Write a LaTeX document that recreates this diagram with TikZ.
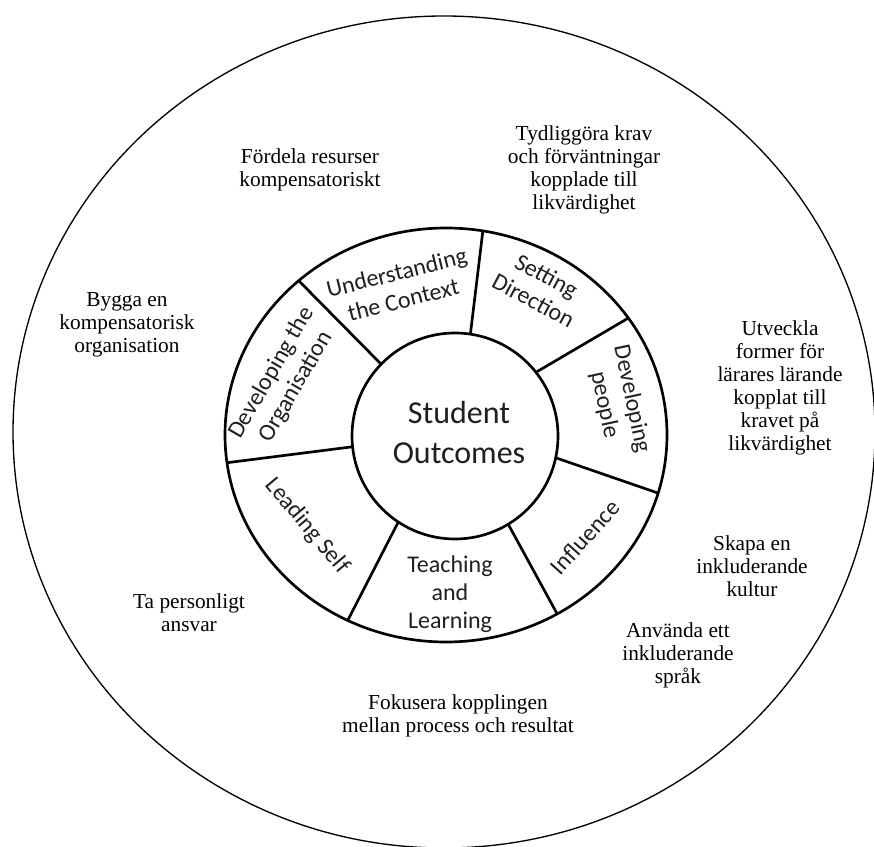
\documentclass[tikz,border=0pt]{standalone}
\usepackage{fontspec}
\setmainfont{Liberation Serif}
\newfontfamily\wheelfont{Carlito}
\usetikzlibrary{
positioning,%
calc
}
\tikzset{
    ring/.style={draw, line width=1pt},
    wheel/.style={draw, line width=2pt},
    sector/.style={font=\wheelfont\fontsize{18}{21}\selectfont, align=center, inner sep=0pt, text=black!88},
    hubtext/.style={font=\wheelfont\fontsize{24}{30}\selectfont, align=center, inner sep=0pt, text=black!88},
    goal/.style={font=\fontsize{16}{17.25}\selectfont, align=center, inner sep=0pt}
}

\begin{document}
\begin{tikzpicture}[x=0.75pt, y=0.75pt]
            \useasboundingbox (0,0) rectangle (874,846);
            \coordinate (c0) at (444,414);
            \coordinate (cw) at (446,411);
            \coordinate (ch) at (455,410);
            \draw[ring] (c0) ellipse [x radius=431, y radius=416];
            \draw[wheel] (cw) ellipse [x radius=221, y radius=207];
            \draw[wheel] (ch) circle [radius=103];
            \foreach \a/\b in {135.8/131.8, 81.4/80.4, 38.2/34.4, -12.2/-16.3,
                               -58.9/-59.8, -123.4/-116.4, 186/187.7}
                \draw[wheel] ([shift={(ch)}]\a:103) -- ([shift={(cw)}]\b:221 and 207);
            \node[hubtext] (hub) at (459,413) {Student\\Outcomes};
            \node[sector, rotate=14] (ctx) at (400,560) {Understanding\\the Context};
            \node[sector, rotate=-28] (dir) at (540,558) {Setting\\Direction};
            \node[sector, rotate=-78] (ppl) at (618,444) {Developing\\people};
            \node[sector, rotate=48] (inf) at (585,309) {Influence};
            \node[sector] (tl) at (450,252) {Teaching\\and\\Learning};
            \node[sector, rotate=-50] (self) at (307,320) {Leading Self};
            \node[sector, rotate=60] (org) at (284,466) {Developing the\\Organisation};
            \node[goal] (g1) at (310,676) {Fördela resurser\\kompensatoriskt};
            \node[goal] (g2) at (584,676) {Tydliggöra krav\\och förväntningar\\kopplade till\\likvärdighet};
            \node[goal] (g3) at (127,521) {Bygga en\\kompensatorisk\\organisation};
            \node[goal] (g4) at (780,458) {Utveckla\\former för\\lärares lärande\\kopplat till\\kravet på\\likvärdighet};
            \node[goal] (g5) at (752,280) {Skapa en\\inkluderande\\kultur};
            \node[goal] (g6) at (678,191) {Använda ett\\inkluderande\\språk};
            \node[goal] (g7) at (189,233) {Ta personligt\\ansvar};
            \node[goal] (g8) at (458,130) {Fokusera kopplingen\\mellan process och resultat};
        \end{tikzpicture}
\end{document}
